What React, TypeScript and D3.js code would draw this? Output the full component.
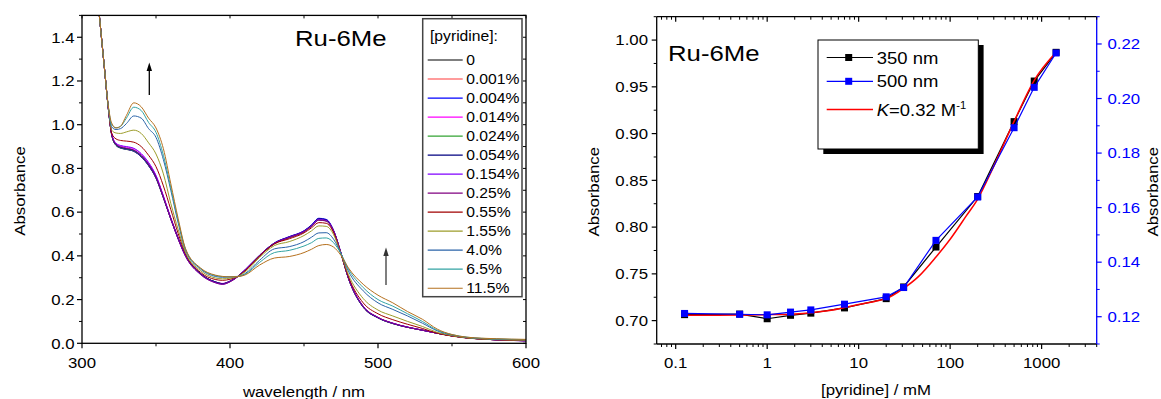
import React from 'react';
import * as d3 from 'd3';

// ---------- Left panel: UV-vis spectra ----------
const wavelengths = [310, 312, 315, 318, 320, 323, 326, 330, 335, 340, 345, 350, 355, 360, 365, 370, 380, 390, 395, 400, 405, 410, 420, 430, 440, 450, 455, 460, 465, 470, 475, 480, 490, 500, 510, 520, 530, 540, 550, 560, 580, 600];

const spec0 = [1.62, 1.48, 1.27, 1.06, 0.955, 0.905, 0.893, 0.887, 0.878, 0.853, 0.812, 0.755, 0.665, 0.568, 0.478, 0.400, 0.318, 0.280, 0.272, 0.283, 0.304, 0.333, 0.400, 0.455, 0.483, 0.510, 0.535, 0.565, 0.560, 0.512, 0.410, 0.297, 0.165, 0.116, 0.090, 0.073, 0.060, 0.046, 0.034, 0.025, 0.016, 0.012];
const spec0001 = [1.62, 1.48, 1.27, 1.062, 0.957, 0.907, 0.895, 0.889, 0.880, 0.855, 0.814, 0.757, 0.667, 0.570, 0.480, 0.401, 0.319, 0.281, 0.273, 0.284, 0.305, 0.334, 0.401, 0.457, 0.485, 0.512, 0.537, 0.567, 0.562, 0.513, 0.410, 0.297, 0.166, 0.117, 0.091, 0.073, 0.060, 0.046, 0.034, 0.025, 0.016, 0.012];
const spec0004 = [1.62, 1.48, 1.27, 1.061, 0.956, 0.906, 0.894, 0.888, 0.879, 0.854, 0.813, 0.756, 0.666, 0.569, 0.479, 0.401, 0.319, 0.281, 0.273, 0.284, 0.305, 0.335, 0.403, 0.459, 0.488, 0.515, 0.541, 0.572, 0.567, 0.517, 0.412, 0.298, 0.166, 0.117, 0.091, 0.074, 0.060, 0.046, 0.034, 0.025, 0.016, 0.012];
const spec0014 = [1.62, 1.48, 1.27, 1.063, 0.960, 0.913, 0.903, 0.898, 0.890, 0.866, 0.825, 0.767, 0.675, 0.575, 0.483, 0.402, 0.319, 0.281, 0.274, 0.285, 0.306, 0.335, 0.402, 0.458, 0.486, 0.513, 0.538, 0.568, 0.563, 0.514, 0.411, 0.299, 0.168, 0.118, 0.092, 0.074, 0.060, 0.046, 0.034, 0.025, 0.016, 0.012];
const spec0024 = [1.62, 1.48, 1.27, 1.061, 0.956, 0.907, 0.895, 0.889, 0.881, 0.857, 0.816, 0.759, 0.668, 0.571, 0.480, 0.401, 0.319, 0.281, 0.273, 0.284, 0.305, 0.334, 0.401, 0.456, 0.484, 0.511, 0.536, 0.566, 0.561, 0.513, 0.411, 0.298, 0.167, 0.117, 0.091, 0.073, 0.060, 0.046, 0.034, 0.025, 0.016, 0.012];
const spec0054 = [1.62, 1.48, 1.27, 1.062, 0.958, 0.909, 0.897, 0.891, 0.883, 0.859, 0.818, 0.761, 0.670, 0.572, 0.481, 0.402, 0.319, 0.281, 0.273, 0.284, 0.305, 0.335, 0.403, 0.459, 0.487, 0.514, 0.540, 0.570, 0.565, 0.515, 0.411, 0.298, 0.167, 0.117, 0.091, 0.073, 0.060, 0.046, 0.034, 0.025, 0.016, 0.012];
const spec0154 = [1.62, 1.48, 1.27, 1.064, 0.962, 0.915, 0.905, 0.900, 0.892, 0.868, 0.827, 0.768, 0.673, 0.570, 0.477, 0.398, 0.316, 0.278, 0.270, 0.282, 0.304, 0.334, 0.402, 0.457, 0.485, 0.512, 0.537, 0.566, 0.562, 0.515, 0.413, 0.300, 0.169, 0.118, 0.092, 0.074, 0.060, 0.046, 0.034, 0.025, 0.016, 0.011];
const spec025 = [1.62, 1.48, 1.27, 1.062, 0.958, 0.910, 0.899, 0.893, 0.884, 0.859, 0.818, 0.760, 0.668, 0.568, 0.476, 0.397, 0.315, 0.277, 0.270, 0.281, 0.303, 0.333, 0.401, 0.456, 0.484, 0.511, 0.535, 0.563, 0.559, 0.514, 0.414, 0.302, 0.170, 0.119, 0.092, 0.074, 0.060, 0.046, 0.034, 0.025, 0.016, 0.011];
const spec055 = [1.62, 1.48, 1.27, 1.065, 0.962, 0.935, 0.928, 0.925, 0.920, 0.900, 0.860, 0.808, 0.720, 0.612, 0.502, 0.410, 0.325, 0.292, 0.288, 0.293, 0.305, 0.330, 0.400, 0.455, 0.478, 0.505, 0.528, 0.552, 0.549, 0.506, 0.408, 0.305, 0.185, 0.135, 0.108, 0.087, 0.068, 0.046, 0.033, 0.024, 0.016, 0.013];
const spec155 = [1.62, 1.48, 1.27, 1.068, 0.975, 0.962, 0.960, 0.967, 0.975, 0.960, 0.917, 0.866, 0.775, 0.640, 0.520, 0.415, 0.333, 0.299, 0.295, 0.298, 0.305, 0.325, 0.393, 0.447, 0.465, 0.493, 0.514, 0.537, 0.535, 0.497, 0.408, 0.315, 0.205, 0.152, 0.125, 0.100, 0.077, 0.050, 0.035, 0.025, 0.017, 0.014];
const spec40 = [1.62, 1.48, 1.27, 1.07, 0.990, 0.978, 0.982, 1.005, 1.040, 1.030, 0.982, 0.942, 0.840, 0.700, 0.550, 0.425, 0.340, 0.306, 0.302, 0.303, 0.305, 0.318, 0.380, 0.432, 0.442, 0.465, 0.485, 0.505, 0.506, 0.476, 0.410, 0.330, 0.240, 0.185, 0.155, 0.125, 0.092, 0.057, 0.038, 0.027, 0.019, 0.016];
const spec65 = [1.62, 1.48, 1.27, 1.072, 1.000, 0.986, 0.992, 1.030, 1.080, 1.065, 1.010, 0.965, 0.860, 0.712, 0.560, 0.430, 0.343, 0.310, 0.305, 0.305, 0.306, 0.315, 0.370, 0.415, 0.425, 0.445, 0.460, 0.480, 0.482, 0.460, 0.410, 0.340, 0.255, 0.200, 0.170, 0.135, 0.100, 0.060, 0.040, 0.028, 0.020, 0.017];
const spec115 = [1.62, 1.48, 1.27, 1.075, 1.008, 0.985, 0.993, 1.042, 1.100, 1.082, 1.030, 0.985, 0.890, 0.730, 0.570, 0.432, 0.345, 0.312, 0.306, 0.304, 0.305, 0.312, 0.358, 0.390, 0.397, 0.415, 0.430, 0.447, 0.452, 0.440, 0.402, 0.345, 0.270, 0.220, 0.185, 0.145, 0.110, 0.065, 0.040, 0.028, 0.021, 0.018];

const spectra = [spec0, spec0001, spec0004, spec0014, spec0024, spec0054, spec0154, spec025, spec055, spec155, spec40, spec65, spec115];
const pyridineLabels = ['0', '0.001%', '0.004%', '0.014%', '0.024%', '0.054%', '0.154%', '0.25%', '0.55%', '1.55%', '4.0%', '6.5%', '11.5%'];
const spectraColors = ['#000000', '#ff3b3b', '#0000ff', '#ff00ff', '#33a333', '#000080', '#8000ff', '#800080', '#a00000', '#9c9c2a', '#2a63a8', '#33a3a3', '#b5701e'];

const specXTicks = [300, 400, 500, 600];
const specXMinor = [350, 450, 550];
const specYTicks = [0, 0.2, 0.4, 0.6, 0.8, 1.0, 1.2, 1.4];
const specYMinor = [0.1, 0.3, 0.5, 0.7, 0.9, 1.1, 1.3, 1.5];

// ---------- Right panel: titration ----------
const concentration = [0.125, 0.5, 1, 1.8, 3, 7, 20, 31, 70, 200, 500, 830, 1440];
const abs350 = [0.7064, 0.707, 0.702, 0.7057, 0.708, 0.7136, 0.7235, 0.736, 0.7787, 0.8327, 0.9128, 0.9562, 0.9869];
const abs500 = [0.1212, 0.1209, 0.1207, 0.1217, 0.1225, 0.1246, 0.1273, 0.1307, 0.148, 0.1639, 0.1893, 0.2041, 0.2167];
const fitConc = [0.125, 0.5, 1, 2, 3, 5, 7, 10, 15, 20, 31, 45, 70, 100, 150, 200, 290, 500, 830, 1440];
const fitAbs = [0.7057, 0.7059, 0.7063, 0.7072, 0.7085, 0.711, 0.714, 0.7172, 0.7205, 0.7235, 0.7345, 0.747, 0.768, 0.787, 0.812, 0.830, 0.862, 0.913, 0.957, 0.987];

const titXTicks = [0.1, 1, 10, 100, 1000];
const titYTicks = [0.70, 0.75, 0.80, 0.85, 0.90, 0.95, 1.00];
const titY2Ticks = [0.12, 0.14, 0.16, 0.18, 0.20, 0.22];
const legendSeries = ['350 nm', '500 nm'];

const SX = 1.12;
const FONT = '"Liberation Sans", Arial, sans-serif';

function Txt({ x, y, size = 15, anchor = 'start', fill = '#000', rot = 0, children }: any) {
  const t = `translate(${x},${y})${rot ? ` rotate(${rot})` : ''} scale(${SX},1)`;
  return (
    <text transform={t} fontSize={size} textAnchor={anchor} fill={fill} fontFamily={FONT}>
      {children}
    </text>
  );
}

export default function App() {
  // left panel scales
  const L = { l: 82, r: 526, t: 15.4, b: 343.3 };
  const x1 = d3.scaleLinear().domain([300, 600]).range([L.l, L.r]);
  const y1 = d3.scaleLinear().domain([0, 1.5]).range([L.b, L.t]);
  const specLine = d3
    .line<number>()
    .x((_, i) => x1(wavelengths[i]))
    .y((d) => y1(d))
    .curve(d3.curveMonotoneX);

  // right panel scales
  const R = { l: 656.7, r: 1096.7, t: 16.7, b: 344 };
  const x2 = d3.scaleLog().domain([0.062, 4000]).range([R.l, R.r]);
  const y2 = d3.scaleLinear().domain([0.675, 1.025]).range([R.b, R.t]);
  const y2b = d3.scaleLinear().domain([0.11, 0.23]).range([R.b, R.t]);

  const minorLog: number[] = [];
  [0.01, 0.1, 1, 10, 100, 1000].forEach((dec) => {
    for (let k = 2; k <= 9; k++) {
      const v = dec * k;
      if (v >= 0.062 && v <= 4000) minorLog.push(v);
    }
  });
  const y2Minor = d3.range(0.675, 1.026, 0.025).filter((v) => Math.abs((v * 100) % 5) > 0.1 && Math.abs((v * 100) % 5) < 4.9);
  const y2bMinor = d3.range(0.11, 0.2301, 0.02);

  const line350 = d3.line<number>().x((_, i) => x2(concentration[i])).y((d) => y2(d));
  const line500 = d3.line<number>().x((_, i) => x2(concentration[i])).y((d) => y2b(d));
  const lineFit = d3
    .line<number>()
    .x((_, i) => x2(fitConc[i]))
    .y((d) => y2(d))
    .curve(d3.curveMonotoneX);

  const fmtLog = (v: number) => (v < 1 ? '0.1' : String(v));
  const ms = 7;

  return (
    <svg width={1161} height={399} style={{ position: 'absolute', left: 0, top: 0, background: '#fff' }}>
      <defs>
        <clipPath id="clipL">
          <rect x={L.l} y={L.t} width={L.r - L.l} height={L.b - L.t} />
        </clipPath>
      </defs>
      <rect width={1161} height={399} fill="#fff" />

      {/* ===== Left panel ===== */}
      <g clipPath="url(#clipL)">
        {spectra.map((s, i) => (
          <path key={i} d={specLine(s) || ''} fill="none" stroke={spectraColors[i]} strokeWidth={1} />
        ))}
      </g>
      <rect x={L.l} y={L.t} width={L.r - L.l} height={L.b - L.t} fill="none" stroke="#000" strokeWidth={1.3} />
      {specYTicks.map((v) => (
        <g key={'ly' + v}>
          <line x1={L.l - 5} x2={L.l} y1={y1(v)} y2={y1(v)} stroke="#000" strokeWidth={1.2} />
          <line x1={L.r - 3} x2={L.r} y1={y1(v)} y2={y1(v)} stroke="#000" strokeWidth={1} />
          <Txt x={74.5} y={y1(v) + 5.3} anchor="end">{v.toFixed(1)}</Txt>
        </g>
      ))}
      {specYMinor.map((v) => (
        <g key={'lym' + v}>
          <line x1={L.l - 3} x2={L.l} y1={y1(v)} y2={y1(v)} stroke="#000" strokeWidth={1} />
          <line x1={L.r - 3} x2={L.r} y1={y1(v)} y2={y1(v)} stroke="#000" strokeWidth={1} />
        </g>
      ))}
      {specXTicks.map((v) => (
        <g key={'lx' + v}>
          <line x1={x1(v)} x2={x1(v)} y1={L.b} y2={L.b + 5} stroke="#000" strokeWidth={1.2} />
          <line x1={x1(v)} x2={x1(v)} y1={L.t} y2={L.t + 3} stroke="#000" strokeWidth={1} />
          <Txt x={x1(v)} y={368} anchor="middle">{String(v)}</Txt>
        </g>
      ))}
      {specXMinor.map((v) => (
        <g key={'lxm' + v}>
          <line x1={x1(v)} x2={x1(v)} y1={L.b} y2={L.b + 3} stroke="#000" strokeWidth={1} />
          <line x1={x1(v)} x2={x1(v)} y1={L.t} y2={L.t + 3} stroke="#000" strokeWidth={1} />
        </g>
      ))}
      <Txt x={25} y={191} rot={-90} anchor="middle">Absorbance</Txt>
      <Txt x={304} y={397} anchor="middle">wavelength / nm</Txt>
      <Txt x={295} y={45.7} size={23}>Ru-6Me</Txt>

      {/* arrows */}
      <line x1={149.3} x2={149.3} y1={95} y2={70} stroke="#000" strokeWidth={1.3} />
      <path d="M149.3,62.5 L146.6,71 L152,71 Z" fill="#000" />
      <line x1={386} x2={386} y1={285} y2={255} stroke="#555" strokeWidth={1.5} />
      <path d="M386,247.5 L383.3,256 L388.7,256 Z" fill="#333" />

      {/* legend */}
      <rect x={422.7} y={18.7} width={99.3} height={278} fill="#fff" stroke="#444" strokeWidth={1.5} />
      <Txt x={430} y={41} size={14}>[pyridine]:</Txt>
      {pyridineLabels.map((lab, i) => {
        const cy = 60 + i * 19.02;
        return (
          <g key={'lg' + i}>
            <line x1={427.7} x2={462.7} y1={cy} y2={cy} stroke={spectraColors[i]} strokeWidth={1.2} />
            <Txt x={466.2} y={cy + 5.1} size={14}>{lab}</Txt>
          </g>
        );
      })}

      {/* ===== Right panel ===== */}
      <line x1={R.l} x2={R.r} y1={R.t} y2={R.t} stroke="#000" strokeWidth={1.3} />
      <line x1={R.l} x2={R.r} y1={R.b} y2={R.b} stroke="#000" strokeWidth={1.3} />
      <line x1={R.l} x2={R.l} y1={R.t} y2={R.b} stroke="#000" strokeWidth={1.3} />
      <line x1={R.r} x2={R.r} y1={R.t} y2={R.b} stroke="#0000ff" strokeWidth={1.3} />

      {titYTicks.map((v) => (
        <g key={'ry' + v}>
          <line x1={R.l - 5} x2={R.l} y1={y2(v)} y2={y2(v)} stroke="#000" strokeWidth={1.2} />
          <Txt x={648} y={y2(v) + 5.3} anchor="end">{v.toFixed(2)}</Txt>
        </g>
      ))}
      {y2Minor.map((v) => (
        <line key={'rym' + v} x1={R.l - 3} x2={R.l} y1={y2(v)} y2={y2(v)} stroke="#000" strokeWidth={1} />
      ))}
      {titY2Ticks.map((v) => (
        <g key={'ry2' + v}>
          <line x1={R.r} x2={R.r + 5} y1={y2b(v)} y2={y2b(v)} stroke="#0000ff" strokeWidth={1.2} />
          <Txt x={1107.5} y={y2b(v) + 5.3} fill="#0000ff">{v.toFixed(2)}</Txt>
        </g>
      ))}
      {y2bMinor.map((v) => (
        <line key={'ry2m' + v} x1={R.r} x2={R.r + 3} y1={y2b(v)} y2={y2b(v)} stroke="#0000ff" strokeWidth={1} />
      ))}
      {titXTicks.map((v) => (
        <g key={'rx' + v}>
          <line x1={x2(v)} x2={x2(v)} y1={R.b} y2={R.b + 5} stroke="#000" strokeWidth={1.2} />
          <line x1={x2(v)} x2={x2(v)} y1={R.t} y2={R.t + 5} stroke="#000" strokeWidth={1.2} />
          <Txt x={x2(v)} y={368} anchor="middle">{fmtLog(v)}</Txt>
        </g>
      ))}
      {minorLog.map((v) => (
        <g key={'rxm' + v}>
          <line x1={x2(v)} x2={x2(v)} y1={R.b} y2={R.b + 3} stroke="#000" strokeWidth={1} />
          <line x1={x2(v)} x2={x2(v)} y1={R.t} y2={R.t + 3} stroke="#000" strokeWidth={1} />
        </g>
      ))}

      <Txt x={599.3} y={191.7} rot={-90} anchor="middle">Absorbance</Txt>
      <Txt x={1158} y={191.7} rot={-90} anchor="middle">Absorbance</Txt>
      <Txt x={876} y={395} anchor="middle">[pyridine] / mM</Txt>
      <Txt x={668} y={60.7} size={23}>Ru-6Me</Txt>

      {/* data */}
      <path d={line350(abs350) || ''} fill="none" stroke="#000" strokeWidth={1.2} />
      {abs350.map((v, i) => (
        <rect key={'m350' + i} x={x2(concentration[i]) - ms / 2} y={y2(v) - ms / 2} width={ms} height={ms} fill="#000" />
      ))}
      <path d={lineFit(fitAbs) || ''} fill="none" stroke="#ff0000" strokeWidth={1.5} />
      <path d={line500(abs500) || ''} fill="none" stroke="#0000ff" strokeWidth={1.2} />
      {abs500.map((v, i) => (
        <rect key={'m500' + i} x={x2(concentration[i]) - ms / 2} y={y2b(v) - ms / 2} width={ms} height={ms} fill="#0000ff" />
      ))}

      {/* legend */}
      <rect x={823.3} y={45} width={160.3} height={109} fill="#000" />
      <rect x={818} y={40} width={160.3} height={109} fill="#fff" stroke="#000" strokeWidth={1} />
      {legendSeries.map((lab, i) => {
        const cy = 57.5 + i * 23.8;
        const col = i === 0 ? '#000' : '#0000ff';
        return (
          <g key={'rl' + i}>
            <line x1={826.7} x2={873} y1={cy} y2={cy} stroke={col} strokeWidth={1.2} />
            <rect x={848.7 - ms / 2} y={cy - ms / 2} width={ms} height={ms} fill={col} />
            <Txt x={876.7} y={cy + 6} size={16.5}>{lab}</Txt>
          </g>
        );
      })}
      <line x1={826.7} x2={873} y1={109.5} y2={109.5} stroke="#ff0000" strokeWidth={1.5} />
      <text transform={`translate(876.7,115.5) scale(${SX},1)`} fontSize={16.5} fontFamily={FONT} fill="#000">
        <tspan fontStyle="italic">K</tspan>
        <tspan>=0.32 M</tspan>
        <tspan fontSize={10} dy={-7}>-1</tspan>
      </text>
    </svg>
  );
}
